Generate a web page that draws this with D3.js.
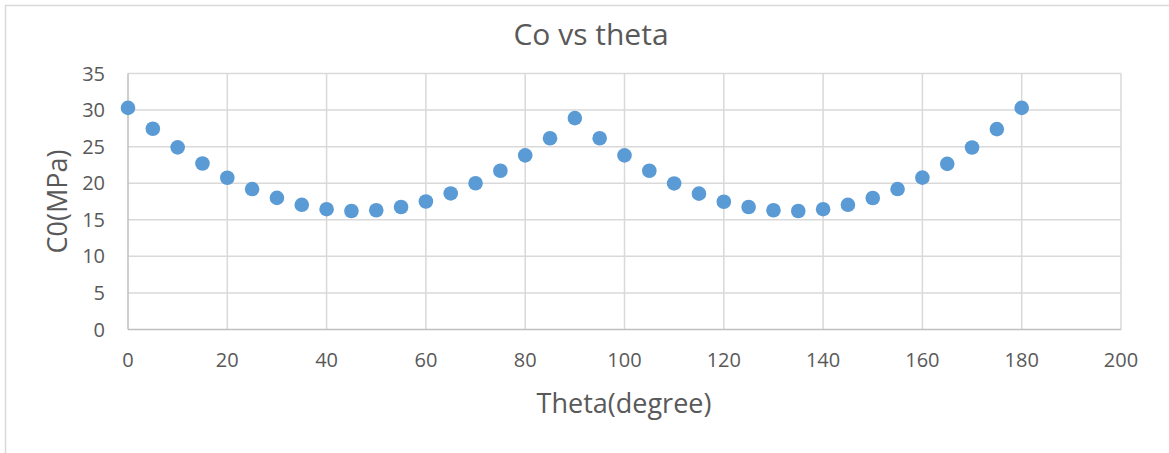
<!DOCTYPE html>
<html>
<head>
<meta charset="utf-8">
<script src="https://cdn.jsdelivr.net/npm/d3@7"></script>
<style>
  html, body { margin: 0; padding: 0; background: #ffffff; }
  svg { display: block; }
  text { font-family: "Open Sans", "Noto Sans", sans-serif; fill: #595959; }
</style>
</head>
<body>
<svg id="chart" width="1169" height="453"></svg>
<script>
// Angle (degrees) and the corresponding C0 strength (MPa)
const theta = [0, 5, 10, 15, 20, 25, 30, 35, 40, 45, 50, 55, 60, 65, 70, 75, 80, 85, 90,
               95, 100, 105, 110, 115, 120, 125, 130, 135, 140, 145, 150, 155, 160, 165, 170, 175, 180];
const c0 = [30.3, 27.45, 24.9, 22.7, 20.75, 19.2, 18.0, 17.05, 16.45, 16.2, 16.3, 16.75, 17.5, 18.6, 20.0, 21.7, 23.8, 26.15, 28.9,
            26.15, 23.8, 21.7, 19.97, 18.57, 17.47, 16.75, 16.3, 16.2, 16.45, 17.05, 17.98, 19.2, 20.76, 22.65, 24.88, 27.4, 30.3];
const xTicks = [0, 20, 40, 60, 80, 100, 120, 140, 160, 180, 200];
const yTicks = [0, 5, 10, 15, 20, 25, 30, 35];

const chartTitle = "Co vs theta";
const xTitle = "Theta(degree)";
const yTitle = "C0(MPa)";

const svg = d3.select("#chart");
const W = 1169, H = 453;
const plot = { left: 128, right: 1121, top: 73.5, bottom: 329.5 };

const x = d3.scaleLinear().domain([0, 200]).range([plot.left, plot.right]);
const y = d3.scaleLinear().domain([0, 35]).range([plot.bottom, plot.top]);

// chart frame: top and left edges
svg.append("line").attr("x1", 5).attr("x2", W).attr("y1", 5.5).attr("y2", 5.5)
  .attr("stroke", "#d9d9d9").attr("stroke-width", 1.5);
svg.append("line").attr("x1", 5.5).attr("x2", 5.5).attr("y1", 5).attr("y2", H)
  .attr("stroke", "#d9d9d9").attr("stroke-width", 1.5);

// horizontal gridlines
svg.append("g").selectAll("line").data(yTicks.filter(d => d > 0)).join("line")
  .attr("x1", plot.left).attr("x2", plot.right)
  .attr("y1", d => y(d)).attr("y2", d => y(d))
  .attr("stroke", "#d9d9d9").attr("stroke-width", 1.5);

// vertical gridlines
svg.append("g").selectAll("line").data(xTicks.filter(d => d > 0)).join("line")
  .attr("x1", d => x(d)).attr("x2", d => x(d))
  .attr("y1", plot.top).attr("y2", plot.bottom)
  .attr("stroke", "#d9d9d9").attr("stroke-width", 1.5);

// axis lines
svg.append("line").attr("x1", plot.left).attr("x2", plot.right)
  .attr("y1", plot.bottom).attr("y2", plot.bottom)
  .attr("stroke", "#bfbfbf").attr("stroke-width", 1.5);
svg.append("line").attr("x1", plot.left).attr("x2", plot.left)
  .attr("y1", plot.top).attr("y2", plot.bottom)
  .attr("stroke", "#bfbfbf").attr("stroke-width", 1.5);

// tick labels
svg.append("g").selectAll("text").data(xTicks).join("text")
  .attr("x", d => x(d)).attr("y", 367)
  .attr("text-anchor", "middle").attr("font-size", 20)
  .text(d => d);
svg.append("g").selectAll("text").data(yTicks).join("text")
  .attr("x", 105).attr("y", d => y(d) + 7)
  .attr("text-anchor", "end").attr("font-size", 20)
  .text(d => d);

// titles
svg.append("text").attr("x", 591).attr("y", 45)
  .attr("text-anchor", "middle").attr("font-size", 30).text(chartTitle);
svg.append("text").attr("x", 624).attr("y", 413)
  .attr("text-anchor", "middle").attr("font-size", 27).text(xTitle);
svg.append("text")
  .attr("transform", `translate(67, ${(plot.top + plot.bottom) / 2}) rotate(-90)`)
  .attr("text-anchor", "middle").attr("font-size", 27).text(yTitle);

// data points
svg.append("g").selectAll("circle").data(theta.map((t, i) => [t, c0[i]])).join("circle")
  .attr("cx", d => x(d[0])).attr("cy", d => y(d[1]))
  .attr("r", 7.3).attr("fill", "#5b9bd5");
</script>
</body>
</html>
